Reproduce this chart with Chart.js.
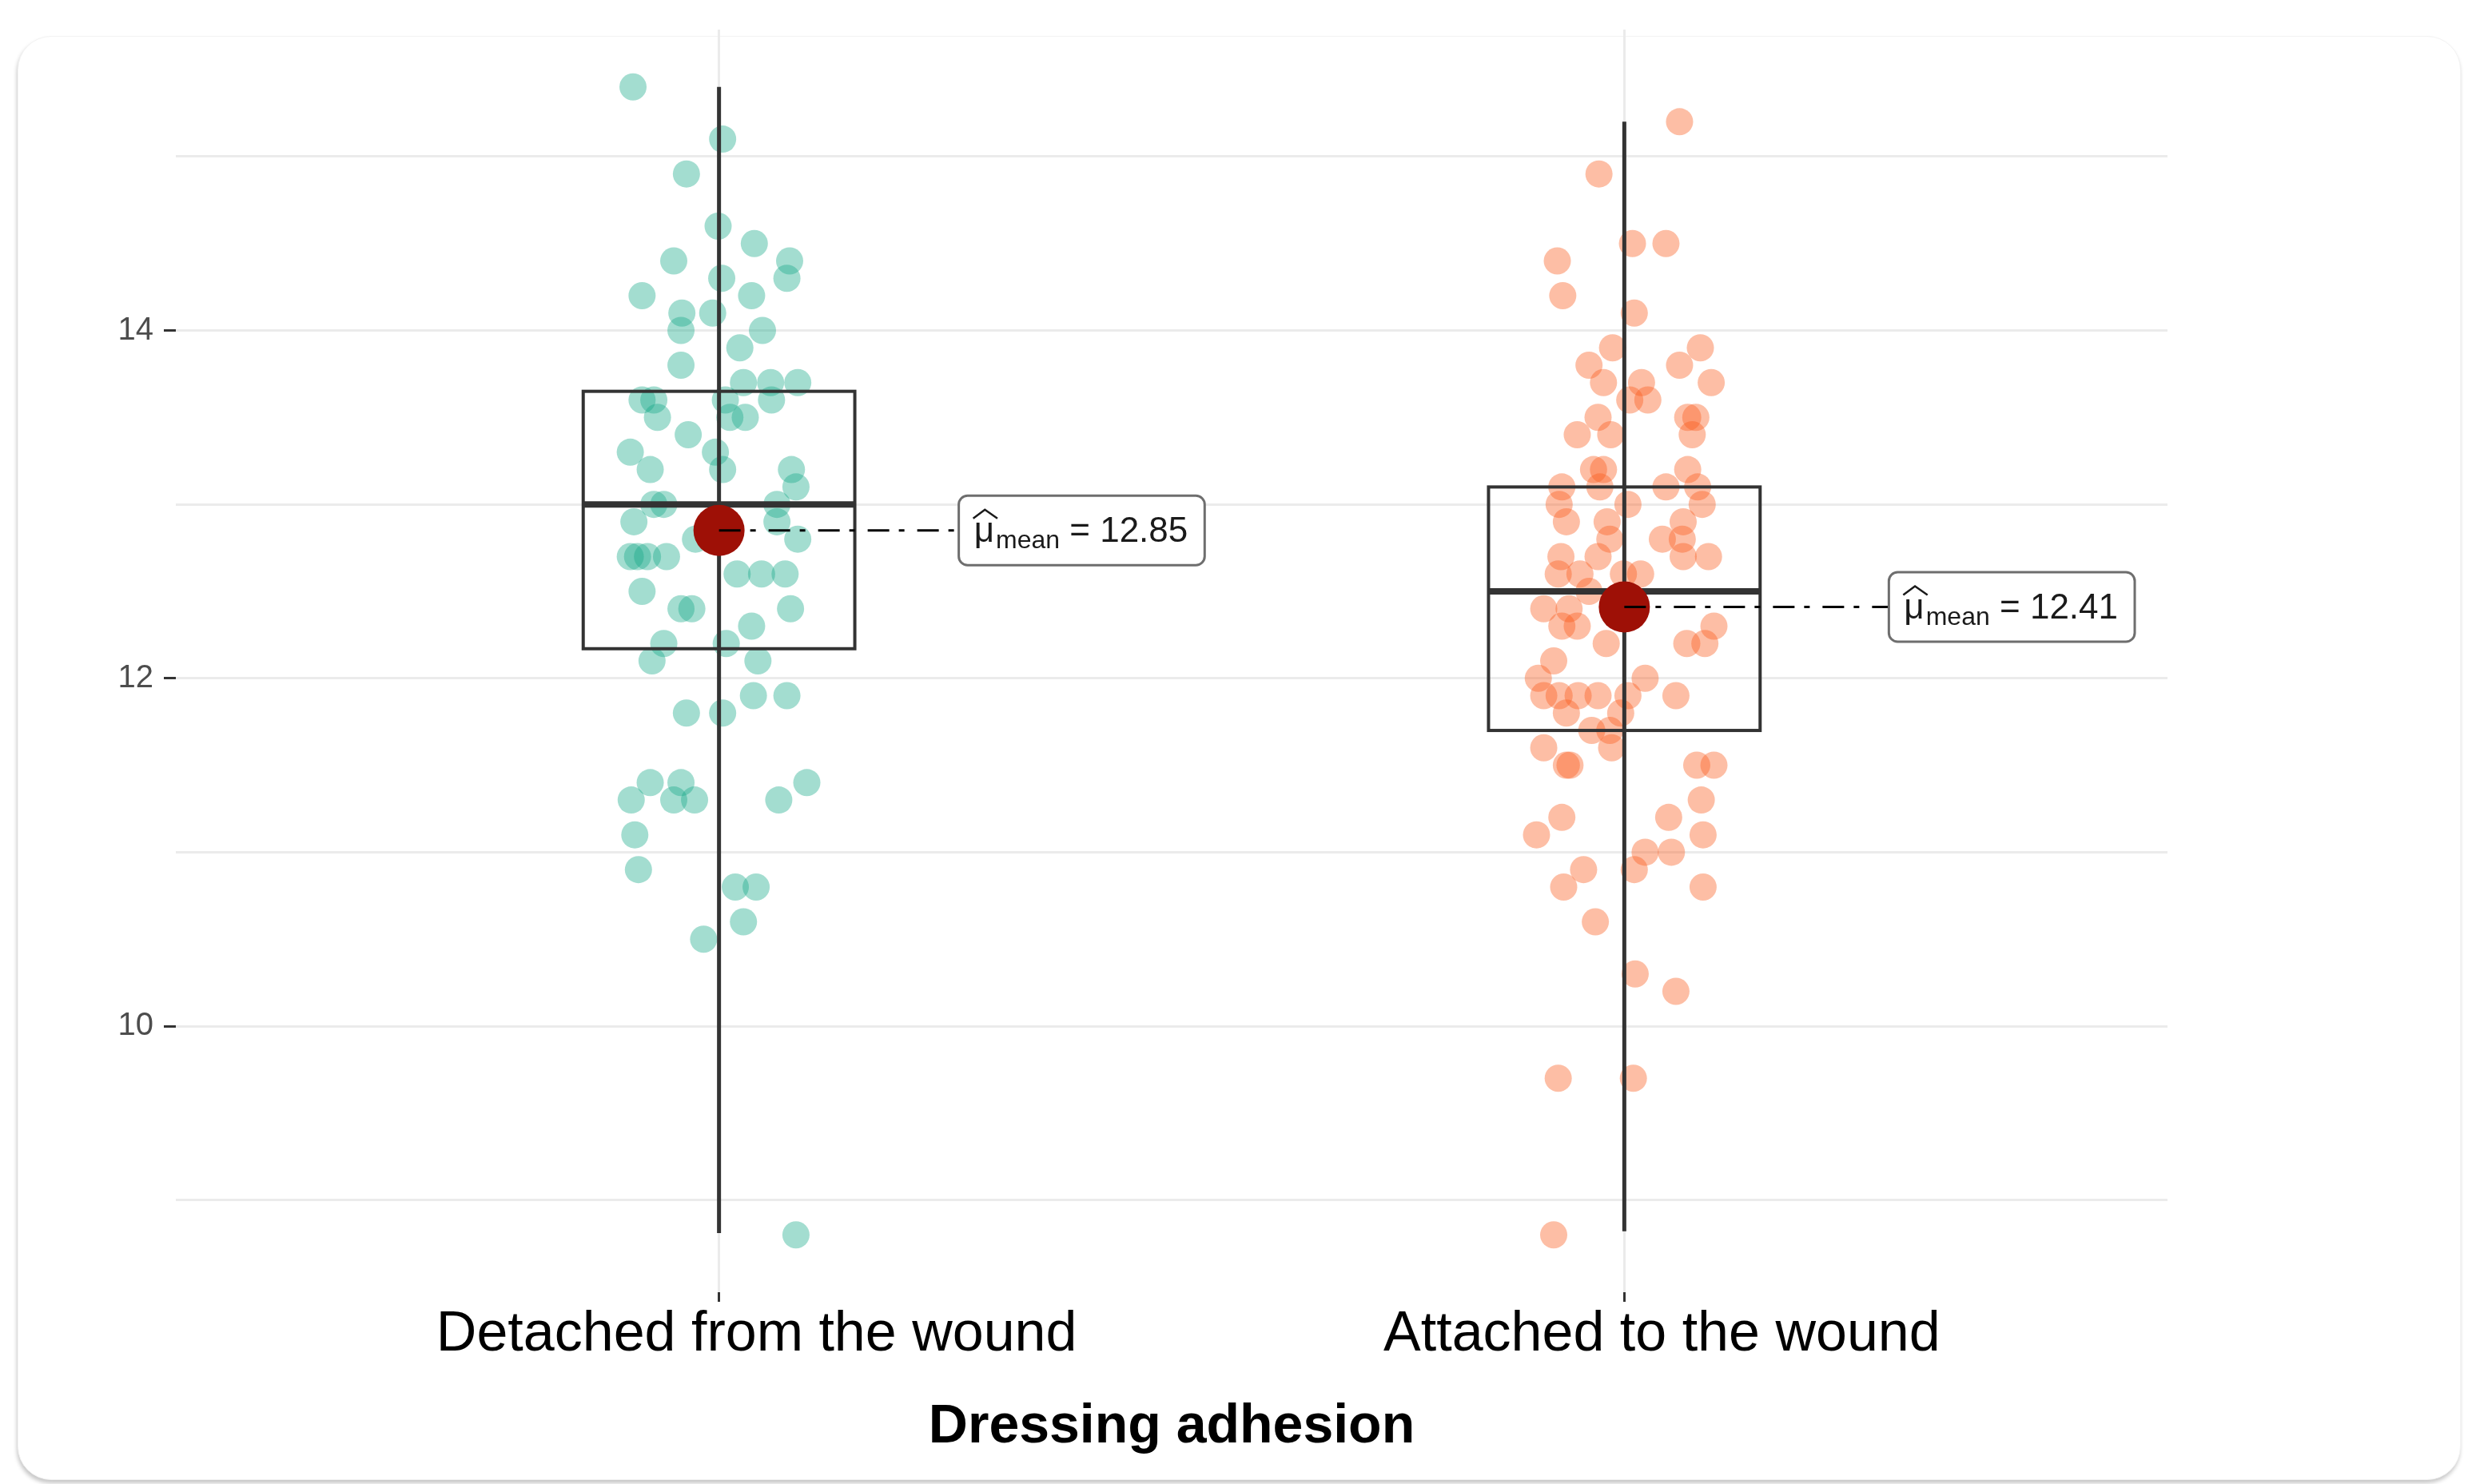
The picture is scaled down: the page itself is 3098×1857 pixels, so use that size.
<!DOCTYPE html>
<html lang="en">
    <head>
        <meta charset="UTF-8" />
        <title>Dressing adhesion</title>
        <script src="https://cdn.jsdelivr.net/npm/chart.js"></script>
        <style>
            body {
                margin: 0;
                width: 3098px;
                height: 1857px;
                overflow: hidden;
                background: #ffffff;
                font-family: "Liberation Sans", Arial, sans-serif;
            }
            .card {
                position: absolute;
                left: 22px;
                top: 45px;
                width: 3055px;
                height: 1805px;
                background: #ffffff;
                border: 1px solid #f3f3f3;
                border-radius: 42px;
                box-shadow: -1px 4px 5px rgba(0, 0, 0, 0.22);
            }
            .chart-container {
                position: absolute;
                left: 0;
                top: 0;
                width: 3098px;
                height: 1857px;
            }
        </style>
    </head>
    <body>
        <div class="card"></div>
        <div class="chart-container">
            <canvas id="adhesionChart"></canvas>
        </div>

        <script>
            const categories = ["Detached from the wound", "Attached to the wound"];
            const categoryPositions = [1, 2];

            const detachedValues = [
                15.4, 15.1, 14.9, 14.6, 14.5, 14.4, 14.4, 14.3, 14.3, 14.2, 14.2, 14.1, 14.1, 14.0, 14.0, 13.9, 13.8,
                13.7, 13.7, 13.7, 13.6, 13.6, 13.6, 13.6, 13.5, 13.5, 13.5, 13.4, 13.3, 13.3, 13.2, 13.2, 13.2, 13.1,
                13.0, 13.0, 13.0, 12.9, 12.9, 12.8, 12.8, 12.7, 12.7, 12.7, 12.7, 12.6, 12.6, 12.6, 12.5, 12.4, 12.4,
                12.4, 12.3, 12.2, 12.2, 12.1, 12.1, 11.9, 11.9, 11.8, 11.8, 11.4, 11.4, 11.4, 11.3, 11.3, 11.3, 11.3,
                11.1, 10.9, 10.8, 10.8, 10.6, 10.5, 8.8,
            ];
            const detachedJitter = [
                -0.095, 0.004, -0.036, -0.001, 0.039, -0.05, 0.078, 0.075, 0.003, -0.085, 0.036, -0.041, -0.007, -0.042,
                0.048, 0.023, -0.042, 0.027, 0.057, 0.087, -0.085, -0.072, 0.058, 0.007, -0.068, 0.012, 0.029, -0.034,
                -0.098, -0.004, -0.076, 0.004, 0.08, 0.085, -0.072, -0.061, 0.064, -0.094, 0.064, -0.026, 0.087, -0.098,
                -0.079, -0.058, -0.09, 0.02, 0.047, 0.073, -0.085, -0.042, -0.03, 0.079, 0.036, -0.061, 0.008, -0.074,
                0.043, 0.038, 0.075, -0.036, 0.004, -0.076, -0.042, 0.097, -0.097, -0.05, -0.027, 0.066, -0.093, -0.089,
                0.018, 0.041, 0.027, -0.017, 0.085,
            ];
            const attachedValues = [
                15.2, 14.9, 14.5, 14.5, 14.4, 14.2, 14.1, 13.9, 13.9, 13.8, 13.8, 13.7, 13.7, 13.7, 13.6, 13.6, 13.5,
                13.5, 13.5, 13.4, 13.4, 13.4, 13.2, 13.2, 13.2, 13.1, 13.1, 13.1, 13.1, 13.0, 13.0, 13.0, 12.9, 12.9,
                12.9, 12.8, 12.8, 12.8, 12.7, 12.7, 12.7, 12.7, 12.6, 12.6, 12.6, 12.6, 12.5, 12.4, 12.4, 12.3, 12.3,
                12.3, 12.2, 12.2, 12.2, 12.1, 12.0, 12.0, 11.9, 11.9, 11.9, 11.9, 11.9, 11.9, 11.8, 11.8, 11.7, 11.7,
                11.6, 11.6, 11.5, 11.5, 11.5, 11.5, 11.3, 11.2, 11.2, 11.1, 11.1, 11.0, 11.0, 10.9, 10.9, 10.8, 10.8,
                10.6, 10.3, 10.2, 9.7, 9.7, 8.8,
            ];
            const attachedJitter = [
                0.061, -0.028, 0.009, 0.046, -0.074, -0.068, 0.011, -0.013, 0.084, -0.039, 0.061, -0.023, 0.019, 0.096,
                0.006, 0.026, -0.029, 0.07, 0.079, -0.052, -0.015, 0.075, -0.034, -0.023, 0.07, -0.069, -0.027, 0.046,
                0.081, -0.072, 0.004, 0.086, -0.064, -0.019, 0.065, -0.016, 0.042, 0.064, -0.07, -0.029, 0.065, 0.093,
                -0.073, -0.049, -0.001, 0.018, -0.039, -0.089, -0.061, -0.052, -0.069, 0.099, -0.02, 0.069, 0.089,
                -0.078, -0.095, 0.023, -0.089, -0.072, -0.051, -0.029, 0.004, 0.057, -0.064, -0.004, -0.036, -0.016,
                -0.014, -0.089, -0.064, -0.06, 0.08, 0.099, 0.085, -0.069, 0.049, -0.097, 0.087, 0.023, 0.052, -0.045,
                0.011, -0.067, 0.087, -0.032, 0.012, 0.057, -0.073, 0.01, -0.078,
            ];

            // box plot summaries per group
            const boxLower = [12.17, 11.7];
            const boxMedian = [13.0, 12.5];
            const boxUpper = [13.65, 13.1];
            const whiskerLow = [8.81, 8.82];
            const whiskerHigh = [15.4, 15.2];
            const means = [12.85, 12.41];
            const meanLabels = ["12.85", "12.41"];

            const yGridValues = [9, 10, 11, 12, 13, 14, 15];
            const yTickLabels = [10, 12, 14];

            const boxWidth = 0.3;
            const labelGaps = [300, 331];

            function toPoints(values, jitter, pos) {
                return values.map((v, i) => ({ x: pos + jitter[i], y: v }));
            }

            const boxPlugin = {
                id: "boxes",
                beforeDatasetDraw(chart, args) {
                    if (args.index !== 2) return;
                    const { ctx } = chart;
                    const x = chart.scales.x;
                    const y = chart.scales.y;
                    ctx.save();
                    ctx.strokeStyle = "#333333";
                    categoryPositions.forEach((pos, i) => {
                        const cx = x.getPixelForValue(pos);
                        const left = x.getPixelForValue(pos - boxWidth / 2);
                        const right = x.getPixelForValue(pos + boxWidth / 2);
                        const top = y.getPixelForValue(boxUpper[i]);
                        const bottom = y.getPixelForValue(boxLower[i]);

                        ctx.lineWidth = 5;
                        ctx.beginPath();
                        ctx.moveTo(cx, y.getPixelForValue(whiskerLow[i]));
                        ctx.lineTo(cx, y.getPixelForValue(whiskerHigh[i]));
                        ctx.stroke();

                        ctx.lineWidth = 4;
                        ctx.strokeRect(left, top, right - left, bottom - top);

                        ctx.lineWidth = 8;
                        ctx.beginPath();
                        const my = y.getPixelForValue(boxMedian[i]);
                        ctx.moveTo(left, my);
                        ctx.lineTo(right, my);
                        ctx.stroke();
                    });
                    ctx.restore();
                },
            };

            const meanLabelPlugin = {
                id: "meanLabels",
                afterDatasetsDraw(chart) {
                    const { ctx } = chart;
                    const x = chart.scales.x;
                    const y = chart.scales.y;
                    const mainFont = '44px "Liberation Sans", Arial, sans-serif';
                    const subFont = '32px "Liberation Sans", Arial, sans-serif';
                    ctx.save();
                    categoryPositions.forEach((pos, i) => {
                        const cx = x.getPixelForValue(pos);
                        const cy = y.getPixelForValue(means[i]);
                        const boxLeft = cx + labelGaps[i];

                        ctx.font = mainFont;
                        const muW = ctx.measureText("\u03bc").width;
                        const restW = ctx.measureText(" = " + meanLabels[i]).width;
                        ctx.font = subFont;
                        const subW = ctx.measureText("mean").width;
                        const boxW = 19 + muW + 2 + subW + restW + 21;
                        const boxH = 87;

                        // dash-dot connector
                        ctx.strokeStyle = "#000000";
                        ctx.lineWidth = 3;
                        ctx.setLineDash([27, 12, 7, 16]);
                        ctx.beginPath();
                        ctx.moveTo(cx, cy);
                        ctx.lineTo(boxLeft, cy);
                        ctx.stroke();
                        ctx.setLineDash([]);

                        // label box
                        ctx.fillStyle = "#ffffff";
                        ctx.strokeStyle = "#6e6e6e";
                        ctx.lineWidth = 3;
                        ctx.beginPath();
                        ctx.roundRect(boxLeft, cy - boxH / 2, boxW, boxH, 11);
                        ctx.fill();
                        ctx.stroke();

                        // text
                        const base = cy + 14;
                        let tx = boxLeft + 19;
                        ctx.fillStyle = "#1a1a1a";
                        ctx.textBaseline = "alphabetic";
                        ctx.textAlign = "left";
                        ctx.font = mainFont;
                        ctx.fillText("\u03bc", tx, base);

                        ctx.strokeStyle = "#1a1a1a";
                        ctx.lineWidth = 2.5;
                        ctx.beginPath();
                        ctx.moveTo(tx - 1, base - 29);
                        ctx.lineTo(tx + muW / 2 + 1, base - 40);
                        ctx.lineTo(tx + muW + 4, base - 29);
                        ctx.stroke();

                        tx += muW + 2;
                        ctx.font = subFont;
                        ctx.fillText("mean", tx, base + 8);
                        tx += subW;
                        ctx.font = mainFont;
                        ctx.fillText(" = " + meanLabels[i], tx, base);
                    });
                    ctx.restore();
                },
            };

            new Chart(document.getElementById("adhesionChart"), {
                type: "scatter",
                data: {
                    datasets: [
                        {
                            label: categories[0],
                            data: toPoints(detachedValues, detachedJitter, categoryPositions[0]),
                            backgroundColor: "rgba(25, 170, 137, 0.4)",
                            borderWidth: 0,
                            pointRadius: 17,
                            order: 2,
                        },
                        {
                            label: categories[1],
                            data: toPoints(attachedValues, attachedJitter, categoryPositions[1]),
                            backgroundColor: "rgba(250, 92, 30, 0.4)",
                            borderWidth: 0,
                            pointRadius: 17,
                            order: 2,
                        },
                        {
                            label: "mean",
                            data: categoryPositions.map((pos, i) => ({ x: pos, y: means[i] })),
                            backgroundColor: "#9e1006",
                            borderWidth: 0,
                            pointRadius: 32,
                            order: 1,
                        },
                    ],
                },
                options: {
                    responsive: true,
                    maintainAspectRatio: false,
                    devicePixelRatio: 1,
                    animation: false,
                    layout: {
                        padding: { left: 0, right: 386, top: 29, bottom: 0 },
                    },
                    plugins: {
                        legend: { display: false },
                        tooltip: { enabled: false },
                    },
                    scales: {
                        x: {
                            type: "linear",
                            min: 0.4,
                            max: 2.6,
                            afterBuildTicks: (scale) => {
                                scale.ticks = categoryPositions.map((v) => ({ value: v }));
                            },
                            afterFit: (scale) => {
                                scale.height = 240;
                            },
                            ticks: {
                                autoSkip: false,
                                maxRotation: 0,
                                padding: 0,
                                labelOffset: 47,
                                color: "#000000",
                                font: { family: "Liberation Sans", size: 70 },
                                callback: (value) => categories[categoryPositions.indexOf(value)],
                            },
                            grid: {
                                color: "#ebebeb",
                                lineWidth: 3,
                                tickColor: "#333333",
                                tickWidth: 3,
                                tickLength: 12,
                            },
                            border: { display: false },
                            title: {
                                display: true,
                                text: "Dressing adhesion",
                                color: "#000000",
                                font: { family: "Liberation Sans", size: 68, weight: "bold" },
                                padding: { top: 0, bottom: 30 },
                            },
                        },
                        y: {
                            min: 8.47,
                            max: 15.73,
                            afterBuildTicks: (scale) => {
                                scale.ticks = yGridValues.map((v) => ({ value: v }));
                            },
                            afterFit: (scale) => {
                                scale.width = 220;
                            },
                            ticks: {
                                padding: 13,
                                color: "#4d4d4d",
                                font: { family: "Liberation Sans", size: 40 },
                                callback: (value) => (yTickLabels.includes(value) ? String(value) : ""),
                            },
                            grid: {
                                color: "#ebebeb",
                                lineWidth: 3,
                                tickWidth: 3,
                                tickLength: 15,
                                tickColor: (ctx) =>
                                    ctx.tick && yTickLabels.includes(ctx.tick.value) ? "#333333" : "rgba(0,0,0,0)",
                            },
                            border: { display: false },
                        },
                    },
                },
                plugins: [boxPlugin, meanLabelPlugin],
            });
        </script>
    </body>
</html>
